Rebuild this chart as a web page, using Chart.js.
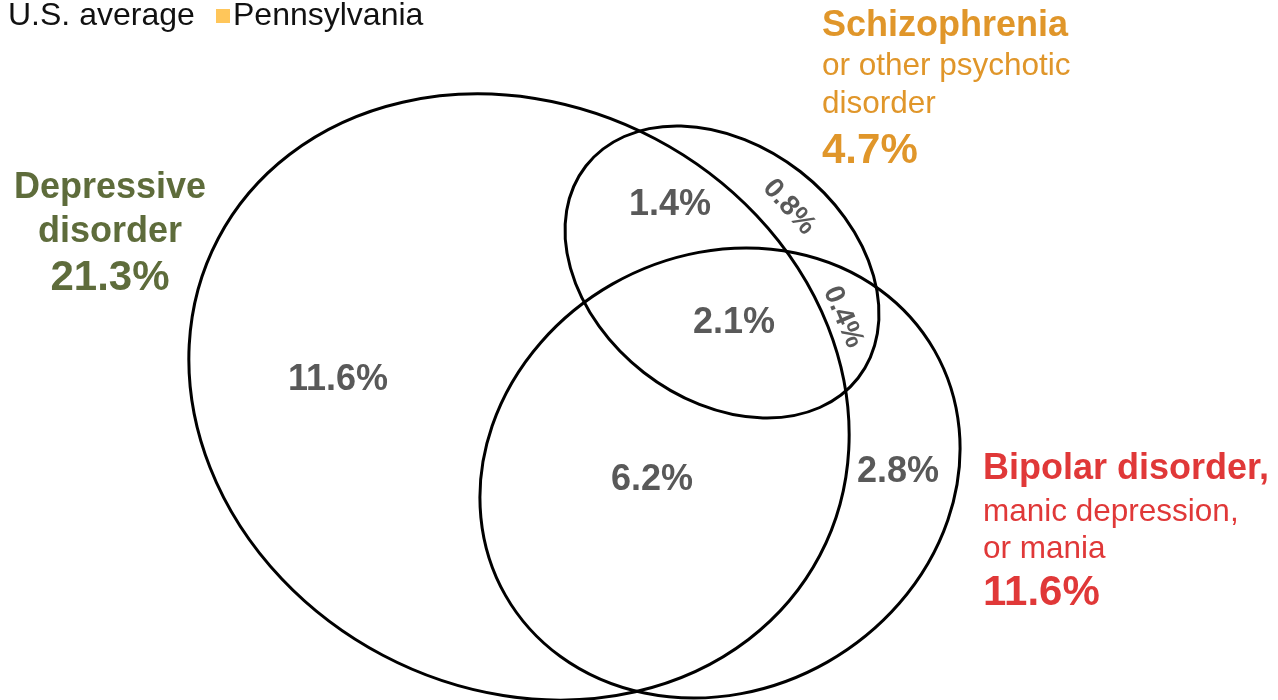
<!DOCTYPE html>
<html>
<head>
<meta charset="utf-8">
<script src="https://cdn.jsdelivr.net/npm/chart.js@4.4.0/dist/chart.umd.min.js"></script>
<style>
  body { margin: 0; background: #fff; }
  #wrap { width: 1278px; height: 700px; }
</style>
</head>
<body>
<div id="wrap"><canvas id="venn"></canvas></div>
<script>
// legend entries
var legendLabels = ["U.S. average", "Pennsylvania"];
// the three disorders and their totals (%)
var groups = ["Depressive disorder", "Schizophrenia or other psychotic disorder", "Bipolar disorder, manic depression, or mania"];
var groupTotals = [21.3, 4.7, 11.6];
// overlap regions and their shares (%)
var regions = ["Depressive only", "Depressive + schizophrenia", "Schizophrenia only", "All three",
               "Schizophrenia + bipolar", "Depressive + bipolar", "Bipolar only"];
var regionValues = [11.6, 1.4, 0.8, 2.1, 0.4, 6.2, 2.8];

// ---- layout (axis units, axes run 0..1278 and 0..700) ----
var FONT = "Arial, 'Liberation Sans', sans-serif";
var ellipseShapes = [
  { cx: 519, cy: 397, rx: 340, ry: 292, rot: 27.8 },
  { cx: 722, cy: 272, rx: 172.5, ry: 127.3, rot: 37.9 },
  { cx: 720, cy: 473, rx: 247, ry: 217.4, rot: -29.7 }
];
// where each region value sits (x centre, baseline y, rotation)
var regionSpots = [
  { x: 338, y: 390, rot: 0 },
  { x: 670, y: 215, rot: 0 },
  { x: 789, y: 207, rot: 48 },
  { x: 734, y: 333, rot: 0 },
  { x: 843, y: 317, rot: 67 },
  { x: 652, y: 490, rot: 0 },
  { x: 898, y: 482, rot: 0 }
];
var groupTitle = [["Depressive", "disorder"], ["Schizophrenia"], ["Bipolar disorder,"]];
var groupSub = [[], ["or other psychotic", "disorder"], ["manic depression,", "or mania"]];
var groupLayout = [
  { x: 110, align: "center", color: "#5E6C3B", y: [198, 242], totalY: 290 },
  { x: 822, align: "left", color: "#E0962A", y: [36, 75, 113], totalY: 163 },
  { x: 983, align: "left", color: "#E03838", y: [479, 521, 558], totalY: 605 }
];

var vennPlugin = {
  id: "venn",
  afterDatasetsDraw: function(chart) {
    var ctx = chart.ctx, xs = chart.scales.x, ys = chart.scales.y;

    // circles
    ctx.save();
    ctx.strokeStyle = "#000";
    ctx.lineWidth = 3;
    ellipseShapes.forEach(function(e) {
      var cx = xs.getPixelForValue(e.cx), cy = ys.getPixelForValue(e.cy);
      var rx = Math.abs(xs.getPixelForValue(e.cx + e.rx) - cx);
      var ry = Math.abs(ys.getPixelForValue(e.cy + e.ry) - cy);
      ctx.beginPath();
      ctx.ellipse(cx, cy, rx, ry, e.rot * Math.PI / 180, 0, Math.PI * 2);
      ctx.stroke();
    });
    ctx.restore();

    // region values at the dataset points
    var meta = chart.getDatasetMeta(0);
    ctx.save();
    ctx.fillStyle = "#595959";
    ctx.textAlign = "center";
    meta.data.forEach(function(pt, i) {
      var txt = regionValues[i].toFixed(1) + "%";
      var rot = regionSpots[i].rot;
      if (rot) {
        ctx.save();
        ctx.translate(pt.x, pt.y);
        ctx.rotate(rot * Math.PI / 180);
        ctx.font = "bold 28px " + FONT;
        ctx.textBaseline = "middle";
        ctx.fillText(txt, 0, 0);
        ctx.restore();
      } else {
        ctx.font = "bold 36px " + FONT;
        ctx.textBaseline = "alphabetic";
        ctx.fillText(txt, pt.x, pt.y);
      }
    });
    ctx.restore();

    // group names + totals
    ctx.save();
    ctx.textBaseline = "alphabetic";
    groupLayout.forEach(function(g, i) {
      var x = xs.getPixelForValue(g.x);
      ctx.fillStyle = g.color;
      ctx.textAlign = g.align;
      var row = 0;
      groupTitle[i].forEach(function(t) {
        ctx.font = "bold 36px " + FONT;
        ctx.fillText(t, x, ys.getPixelForValue(g.y[row++]));
      });
      groupSub[i].forEach(function(t) {
        ctx.font = "31.5px " + FONT;
        ctx.fillText(t, x, ys.getPixelForValue(g.y[row++]));
      });
      ctx.font = "bold 42px " + FONT;
      ctx.fillText(groupTotals[i].toFixed(1) + "%", x, ys.getPixelForValue(g.totalY));
    });
    ctx.restore();

    // legend
    ctx.save();
    ctx.font = "32px " + FONT;
    ctx.textAlign = "left";
    ctx.textBaseline = "alphabetic";
    ctx.fillStyle = "#111";
    ctx.fillText(legendLabels[0], 8, 25);
    ctx.fillStyle = "#FFC65A";
    ctx.fillRect(216, 9, 14, 14);
    ctx.fillStyle = "#111";
    ctx.fillText(legendLabels[1], 233, 25);
    ctx.restore();
  }
};

var ctx = document.getElementById("venn");
var venn = new Chart(ctx, {
  type: "scatter",
  data: {
    datasets: [{
      label: "Regions",
      data: regionValues.map(function(v, i) {
        return { x: regionSpots[i].x, y: regionSpots[i].y, v: v, name: regions[i] };
      }),
      pointRadius: 0
    }]
  },
  options: {
    responsive: true,
    maintainAspectRatio: false,
    animation: false,
    events: [],
    layout: { padding: 0 },
    scales: {
      x: { type: "linear", min: 0, max: 1278, display: false },
      y: { type: "linear", min: 0, max: 700, reverse: true, display: false }
    },
    plugins: {
      legend: { display: false },
      tooltip: { enabled: false }
    }
  },
  plugins: [vennPlugin]
});
</script>
</body>
</html>
